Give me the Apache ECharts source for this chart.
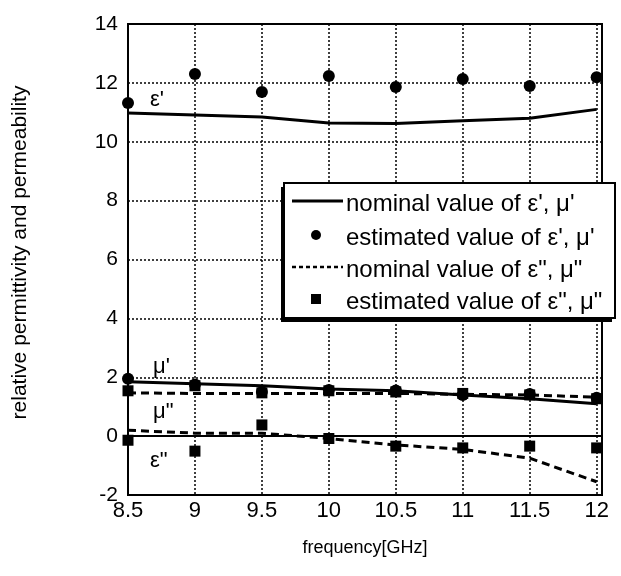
<!DOCTYPE html>
<html>
<head>
<meta charset="utf-8">
<script src="https://cdn.jsdelivr.net/npm/echarts@6/dist/echarts.min.js"></script>
<style>
  html, body { margin: 0; padding: 0; background: #fff; }
  #chart { width: 621px; height: 576px; }
</style>
</head>
<body>
<div id="chart"></div>
<script>
// frequency points [GHz]
var freq = [8.5, 9, 9.5, 10, 10.5, 11, 11.5, 12];

// nominal values (lines)
var nomEpsRe = [10.98, 10.91, 10.84, 10.64, 10.62, 10.71, 10.8, 11.1];
var nomMuRe  = [1.85, 1.78, 1.71, 1.6, 1.54, 1.4, 1.27, 1.1];
var nomEpsIm = [0.2, 0.1, 0.1, -0.08, -0.3, -0.45, -0.75, -1.55];
var nomMuIm  = [1.47, 1.45, 1.45, 1.45, 1.45, 1.42, 1.4, 1.32];

// estimated values (markers)
var estEpsRe = [11.32, 12.3, 11.69, 12.23, 11.86, 12.13, 11.89, 12.19];
var estMuRe  = [1.95, 1.75, 1.5, 1.57, 1.55, 1.4, 1.43, 1.3];
var estEpsIm = [-0.14, -0.51, 0.38, -0.08, -0.34, -0.4, -0.34, -0.4];
var estMuIm  = [1.54, 1.71, 1.47, 1.54, 1.5, 1.45, 1.4, 1.27];

var legendLabels = [
    "nominal value of ε', μ'",
    "estimated value of ε', μ'",
    'nominal value of ε", μ"',
    'estimated value of ε", μ"'
];

var FONT = '"Liberation Sans", Arial, sans-serif';

function pairs(ys) {
    return freq.map(function (x, i) { return [x, ys[i]]; });
}

function lineSeries(ys, dashed) {
    return {
        type: 'line',
        data: pairs(ys),
        symbol: 'none',
        z: 3,
        lineStyle: {color: '#000', width: 3, type: dashed ? [8, 5] : 'solid'}
    };
}

function markSeries(ys, shape, size) {
    return {
        type: 'scatter',
        data: pairs(ys),
        symbol: shape,
        symbolSize: size,
        clip: false,
        z: 4,
        itemStyle: {color: '#000', opacity: 1}
    };
}

var myChart = echarts.init(document.getElementById('chart'));

// legend box drawn by hand (mixed line / dot / square keys)
var lgX = 284, lgY = 183, lgW = 331, lgH = 135;
var rowY = [201, 235, 267, 299];
var legendGfx = [
    {type: 'rect', shape: {x: lgX - 3, y: lgY + 4, width: lgW, height: lgH}, style: {fill: '#000'}, z: 10},
    {type: 'rect', shape: {x: lgX, y: lgY, width: lgW, height: lgH}, style: {fill: '#fff', stroke: '#000', lineWidth: 2}, z: 11},
    {type: 'line', shape: {x1: 292, y1: rowY[0], x2: 343, y2: rowY[0]}, style: {stroke: '#000', lineWidth: 3}, z: 12},
    {type: 'circle', shape: {cx: 316, cy: rowY[1], r: 5}, style: {fill: '#000'}, z: 12},
    {type: 'line', shape: {x1: 292, y1: rowY[2], x2: 343, y2: rowY[2]}, style: {stroke: '#000', lineWidth: 2.5, lineDash: [4, 3]}, z: 12},
    {type: 'rect', shape: {x: 311, y: rowY[3] - 5, width: 10, height: 10}, style: {fill: '#000'}, z: 12}
];
legendLabels.forEach(function (t, i) {
    legendGfx.push({
        type: 'text', x: 346, y: rowY[i] + 3, z: 12,
        style: {text: t, font: '24px ' + FONT, fill: '#000', verticalAlign: 'middle'}
    });
});

// curve labels
var tags = [
    {t: "ε'", x: 150, y: 100},
    {t: "μ'", x: 153, y: 367},
    {t: 'μ"', x: 153, y: 412},
    {t: 'ε"', x: 150, y: 461}
];
tags.forEach(function (d) {
    legendGfx.push({
        type: 'text', x: d.x, y: d.y, z: 5,
        style: {text: d.t, font: '22px ' + FONT, fill: '#000', verticalAlign: 'middle'}
    });
});

var option = {
    animation: false,
    backgroundColor: '#fff',
    grid: {
        left: 128, right: 19, top: 24, bottom: 81,
        show: true, borderColor: '#000', borderWidth: 2
    },
    xAxis: {
        type: 'value',
        min: 8.5, max: 12.04, interval: 0.5,
        name: 'frequency[GHz]',
        nameLocation: 'middle',
        nameGap: 44,
        nameTextStyle: {fontFamily: FONT, fontSize: 18, color: '#000'},
        axisLine: {lineStyle: {color: '#000', width: 2}},
        axisTick: {show: false},
        axisLabel: {fontFamily: FONT, fontSize: 22, color: '#000', margin: 5, showMaxLabel: false},
        splitLine: {lineStyle: {color: '#000', width: 1.5, type: [2, 2]}}
    },
    yAxis: {
        type: 'value',
        min: -2, max: 14, interval: 2,
        name: 'relative permittivity and permeability',
        nameLocation: 'middle',
        nameGap: 97,
        nameTextStyle: {fontFamily: FONT, fontSize: 21, color: '#000', padding: [0, 0, 0, 14]},
        axisLine: {lineStyle: {color: '#000', width: 2}},
        axisTick: {show: false},
        axisLabel: {fontFamily: FONT, fontSize: 21, color: '#000', margin: 10},
        splitLine: {lineStyle: {color: '#000', width: 1.5, type: [2, 2]}}
    },
    series: [
        lineSeries(nomEpsRe, false),
        lineSeries(nomMuRe, false),
        lineSeries(nomEpsIm, true),
        lineSeries(nomMuIm, true),
        markSeries(estEpsRe, 'circle', 12),
        markSeries(estMuRe, 'circle', 12),
        markSeries(estEpsIm, 'rect', 11),
        markSeries(estMuIm, 'rect', 11)
    ],
    graphic: legendGfx
};

myChart.setOption(option);
</script>
</body>
</html>
